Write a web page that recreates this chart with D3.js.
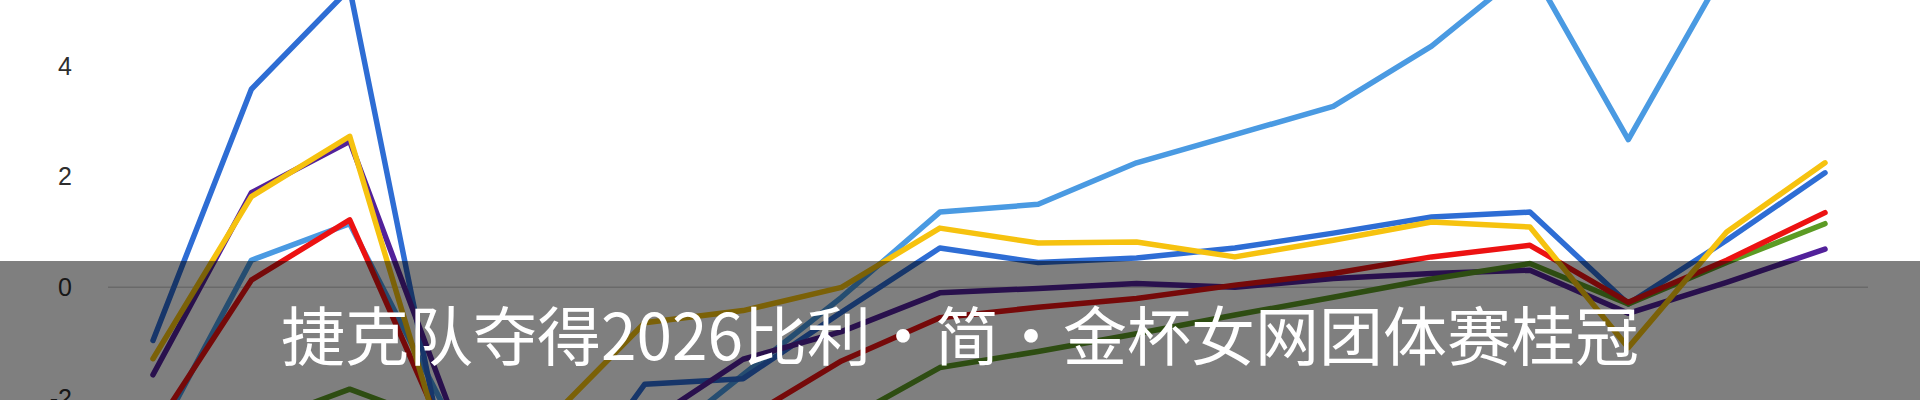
<!DOCTYPE html>
<html>
<head>
<meta charset="utf-8">
<script src="https://cdn.jsdelivr.net/npm/d3@7"></script>
<style>
  html, body { margin: 0; padding: 0; background: #ffffff; }
  svg { display: block; }
</style>
</head>
<body>
<svg id="chart" width="1920" height="400"></svg>
<script>
// ---- data ----
const categories = ["1","2","3","4","5","6","7","8","9","10","11","12","13","14","15","16","17","18"];
const yTicks = [-2, 0, 2, 4];
const seriesNames = ["lightBlue", "blue", "purple", "green", "red", "yellow"];
const lightBlueValues = [-2.84, 0.49, 1.15, -2.3, -3.4, -3.0, -1.58, -0.18, 1.36, 1.5, 2.25, 2.76, 3.27, 4.36, 5.8, 2.67, 5.8, 6.3];
const blueValues      = [-0.96, 3.58, 5.4, -3.4, -4.2, -1.75, -1.65, -0.45, 0.71, 0.45, 0.53, 0.71, 0.98, 1.27, 1.36, -0.3, 0.85, 2.07];
const yellowValues    = [-1.29, 1.64, 2.73, -3.2, -2.44, -0.64, -0.42, 0.0, 1.07, 0.8, 0.82, 0.55, 0.85, 1.18, 1.09, -1.09, 1.0, 2.25];
const purpleValues    = [-1.58, 1.71, 2.64, -2.1, -2.6, -2.48, -1.3, -0.8, -0.1, -0.02, 0.07, 0.0, 0.16, 0.25, 0.31, -0.47, 0.09, 0.69];
const redValues       = [-2.6, 0.13, 1.22, -2.8, -3.2, -3.0, -2.4, -1.33, -0.55, -0.36, -0.2, 0.04, 0.25, 0.55, 0.76, -0.27, 0.49, 1.35];
const greenValues     = [-3.0, -2.5, -1.84, -2.5, -2.7, -2.6, -2.5, -2.44, -1.45, -1.16, -0.84, -0.5, -0.18, 0.15, 0.43, -0.3, 0.45, 1.15];
const titleText = "捷克队夺得2026比利・简・金杯女网团体赛桂冠";

// ---- setup ----
const svg = d3.select("#chart");
const W = 1920, H = 400;

const x = d3.scalePoint().domain(categories).range([153, 1825]);
const y = d3.scaleLinear().domain([-2, 4]).range([398, 66]);

const colors = {
  lightBlue: "#4a9ae2",
  blue: "#2e6dd4",
  yellow: "#f6c20f",
  purple: "#52219a",
  red: "#ec1212",
  green: "#5c9b24"
};
const valuesBy = {
  lightBlue: lightBlueValues,
  blue: blueValues,
  yellow: yellowValues,
  purple: purpleValues,
  red: redValues,
  green: greenValues
};

// background
svg.append("rect").attr("width", W).attr("height", H).attr("fill", "#ffffff");

// zero gridline
svg.append("line")
  .attr("x1", 108).attr("x2", 1868)
  .attr("y1", y(0)).attr("y2", y(0))
  .attr("stroke", "#d2d2d2").attr("stroke-width", 1.5);

// y axis labels
const yAxis = d3.axisLeft(y).tickValues(yTicks).tickSize(0).tickPadding(0)
  .tickFormat(d => d < 0 ? "-" + Math.abs(d) : String(d));
const gAxis = svg.append("g").attr("transform", "translate(72,0)").call(yAxis);
gAxis.select(".domain").remove();
gAxis.selectAll("text")
  .attr("fill", "#2e2e2e")
  .style("font-family", "'Liberation Sans', Arial, sans-serif")
  .style("font-size", "25px");

// lines
const line = d3.line()
  .x((d, i) => x(categories[i]))
  .y(d => y(d));

seriesNames.forEach(name => {
  svg.append("path")
    .datum(valuesBy[name])
    .attr("d", line)
    .attr("fill", "none")
    .attr("stroke", colors[name])
    .attr("stroke-width", 5.5)
    .attr("stroke-linejoin", "round")
    .attr("stroke-linecap", "round");
});

// banner overlay
svg.append("rect")
  .attr("x", 0).attr("y", 261)
  .attr("width", W).attr("height", H - 261)
  .attr("fill", "#000000").attr("fill-opacity", 0.5);

svg.append("text")
  .attr("x", 960).attr("y", 360)
  .attr("text-anchor", "middle")
  .attr("fill", "#ffffff")
  .style("font-family", "'Noto Sans CJK SC', 'Noto Sans', sans-serif")
  .style("font-size", "64px")
  .text(titleText);
</script>
</body>
</html>
